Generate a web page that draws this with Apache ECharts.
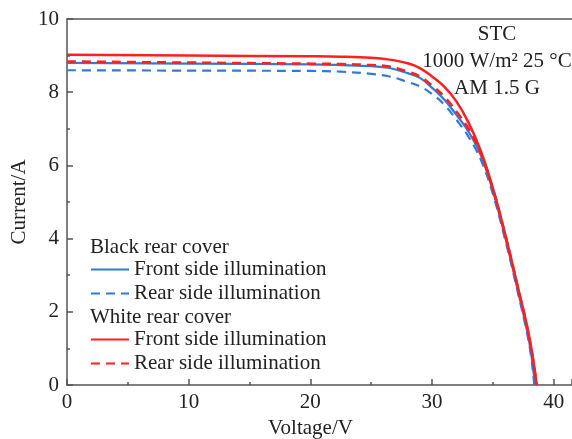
<!DOCTYPE html>
<html>
<head>
<meta charset="utf-8">
<script src="https://cdn.jsdelivr.net/npm/echarts@6/dist/echarts.min.js"></script>
<style>
  html, body { margin: 0; padding: 0; background: #fff; }
  #chart { width: 572px; height: 439px; }
</style>
</head>
<body>
<div id="chart"></div>
<script>
// 读图得到的 I-V 曲线数据（电压 V，电流 A）
const blackFrontV = [0, 10, 20, 22.5, 25, 26.5, 28, 29, 30, 31, 32, 33, 34, 35, 36, 37, 38, 38.45];
const blackFrontI = [8.80, 8.78, 8.76, 8.74, 8.71, 8.66, 8.52, 8.39, 8.12, 7.80, 7.38, 6.92, 6.28, 5.30, 4.05, 2.66, 1.15, 0];

const blackRearV = [0, 10, 20, 22.5, 25, 26.5, 28, 29, 30, 31, 32, 33, 34, 35, 36, 37, 38, 38.4];
const blackRearI = [8.60, 8.59, 8.58, 8.56, 8.50, 8.43, 8.28, 8.16, 7.95, 7.66, 7.25, 6.78, 6.16, 5.22, 3.98, 2.60, 1.08, 0];

const whiteFrontV = [0, 10, 20, 22.5, 25, 26.5, 28, 29, 30, 31, 32, 33, 34, 35, 36, 37, 38, 38.6];
const whiteFrontI = [9.02, 9.00, 8.98, 8.97, 8.94, 8.89, 8.79, 8.66, 8.43, 8.15, 7.75, 7.17, 6.40, 5.38, 4.13, 2.75, 1.30, 0];

const whiteRearV = [0, 10, 20, 22.5, 25, 26.5, 28, 29, 30, 31, 32, 33, 34, 35, 36, 37, 38, 38.6];
const whiteRearI = [8.84, 8.81, 8.78, 8.77, 8.74, 8.70, 8.56, 8.43, 8.18, 7.88, 7.47, 7.00, 6.33, 5.36, 4.12, 2.74, 1.28, 0];

const legendText = {
  bf: 'Front side illumination',
  br: 'Rear side illumination',
  wf: 'Front side illumination',
  wr: 'Rear side illumination'
};

const noteLines = ['STC', '1000 W/m² 25 °C', 'AM 1.5 G'];

const font = 'Liberation Serif';
const fs = 21;
const axisColor = '#555';
const textColor = '#222';
const blue = '#2f7bd6';
const red = '#ff1f1f';

const pair = (xs, ys) => xs.map((x, i) => [x, ys[i]]);

const chart = echarts.init(document.getElementById('chart'));

const legendBase = {
  orient: 'vertical',
  left: 90,
  padding: 0,
  itemWidth: 38,
  itemHeight: 20,
  itemGap: 3,
  selectedMode: false,
  itemStyle: { opacity: 0 },
  formatter: name => legendText[name],
  textStyle: { fontFamily: font, fontSize: fs, color: textColor, lineHeight: 20 }
};

const tickStyle = { color: axisColor, width: 1.5 };

const option = {
  backgroundColor: '#fff',
  animation: false,
  grid: { left: 67, top: 19, right: 0, bottom: 54, outerBoundsMode: 'none', containLabel: false },
  xAxis: [
    {
      type: 'value',
      min: 0,
      max: 41.5,
      interval: 10,
      name: 'Voltage/V',
      nameLocation: 'middle',
      nameGap: 25,
      nameTextStyle: { fontFamily: font, fontSize: fs, color: textColor, padding: [0, 18, 0, 0] },
      axisLine: { lineStyle: tickStyle },
      axisTick: { inside: true, length: 6, lineStyle: tickStyle },
      minorTick: { show: true, splitNumber: 2, length: 3, lineStyle: tickStyle },
      axisLabel: { showMaxLabel: false, margin: 7, fontFamily: font, fontSize: fs, color: textColor },
      splitLine: { show: false }
    },
    {
      // 顶部边框线
      type: 'value',
      position: 'top',
      min: 0,
      max: 41.5,
      axisLine: { show: true, onZero: false, lineStyle: tickStyle },
      axisTick: { show: false },
      axisLabel: { show: false },
      splitLine: { show: false }
    }
  ],
  yAxis: {
    type: 'value',
    min: 0,
    max: 10,
    interval: 2,
    name: 'Current/A',
    nameLocation: 'middle',
    nameGap: 37,
    nameMoveOverlap: false,
    nameTextStyle: { fontFamily: font, fontSize: fs, color: textColor },
    axisLine: { lineStyle: tickStyle },
    axisTick: { inside: true, length: 6, lineStyle: tickStyle },
    minorTick: { show: true, splitNumber: 2, length: 3, lineStyle: tickStyle },
    axisLabel: { margin: 8, fontFamily: font, fontSize: fs, color: textColor },
    splitLine: { show: false }
  },
  legend: [
    Object.assign({}, legendBase, { top: 259, data: ['bf', 'br'] }),
    Object.assign({}, legendBase, { top: 329, data: ['wf', 'wr'] })
  ],
  graphic: [
    { type: 'text', x: 90, y: 247, style: { text: 'Black rear cover', font: fs + 'px "Liberation Serif"', fill: textColor, verticalAlign: 'middle' } },
    { type: 'text', x: 90, y: 317, style: { text: 'White rear cover', font: fs + 'px "Liberation Serif"', fill: textColor, verticalAlign: 'middle' } },
    {
      type: 'group',
      children: noteLines.map((t, i) => ({
        type: 'text',
        x: 497,
        y: 34 + i * 27,
        style: { text: t, font: fs + 'px "Liberation Serif"', fill: textColor, align: 'center', verticalAlign: 'middle' }
      }))
    }
  ],
  series: [
    { name: 'br', type: 'line', smooth: 0.4, symbol: 'none', data: pair(blackRearV, blackRearI),
      lineStyle: { color: blue, width: 2.2, type: [9, 6] }, itemStyle: { color: blue } },
    { name: 'bf', type: 'line', smooth: 0.4, symbol: 'none', data: pair(blackFrontV, blackFrontI),
      lineStyle: { color: blue, width: 2.2 }, itemStyle: { color: blue } },
    { name: 'wr', type: 'line', smooth: 0.4, symbol: 'none', data: pair(whiteRearV, whiteRearI),
      lineStyle: { color: red, width: 2.5, type: [9, 6] }, itemStyle: { color: red } },
    { name: 'wf', type: 'line', smooth: 0.4, symbol: 'none', data: pair(whiteFrontV, whiteFrontI),
      lineStyle: { color: red, width: 2.5 }, itemStyle: { color: red } }
  ]
};

chart.setOption(option);
</script>
</body>
</html>
